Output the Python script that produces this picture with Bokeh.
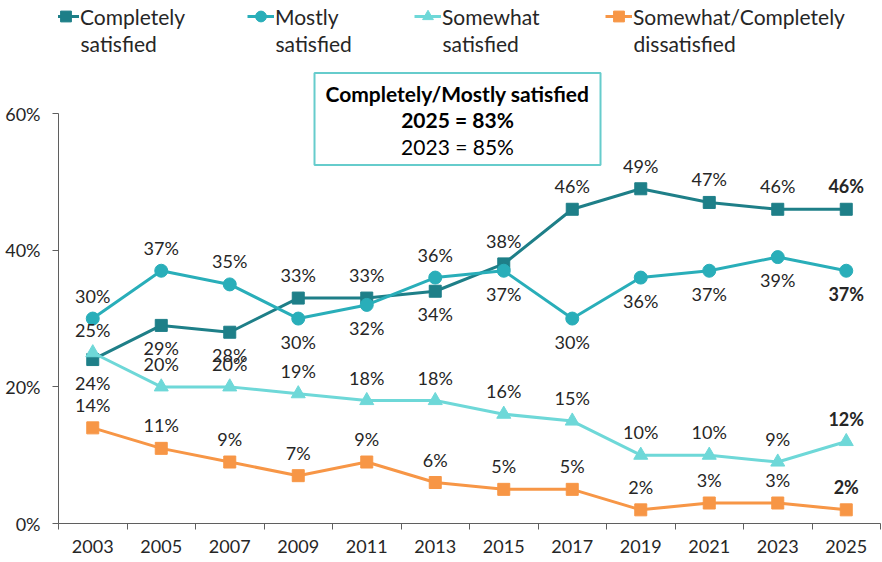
from bokeh.plotting import figure
from bokeh.models import ColumnDataSource, FixedTicker, NumeralTickFormatter, Range1d, Label, Legend, LegendItem
from bokeh.layouts import column
from bokeh.core.properties import value
from bokeh.embed import file_html
from bokeh.resources import INLINE

years = [2003, 2005, 2007, 2009, 2011, 2013, 2015, 2017, 2019, 2021, 2023, 2025]
completely = [24, 29, 28, 33, 33, 34, 38, 46, 49, 47, 46, 46]
mostly = [30, 37, 35, 30, 32, 36, 37, 30, 36, 37, 39, 37]
somewhat = [25, 20, 20, 19, 18, 18, 16, 15, 10, 10, 9, 12]
dissatisfied = [14, 11, 9, 7, 9, 6, 5, 5, 2, 3, 3, 2]

comp_pos = ["below", "below", "below", "above", "above", "below", "above", "above", "above", "above", "above", "above"]
most_pos = ["above", "above", "above", "below", "below", "above", "below", "below", "below", "below", "below", "below"]
some_pos = ["above"] * 12
dis_pos = ["above"] * 12

series_names = [["Completely", "satisfied"], ["Mostly", "satisfied"], ["Somewhat", "satisfied"], ["Somewhat/Completely", "dissatisfied"]]
box_lines = ["Completely/Mostly satisfied", "2025 = 83%", "2023 = 85%"]
y_ticks = [0, 0.2, 0.4, 0.6]

FONT = "Lato"
TXT = "#262626"
colors = ["#1E7F88", "#29AEB9", "#6ED8D8", "#F79646"]
markers = ["square", "circle", "triangle", "square"]
msizes = [12, 13, 14, 12]

W = 882
LEFT = 58
LEG_H = 66
MAIN_H = 495

# ---------- legend figure ----------
leg = figure(width=W, height=LEG_H, output_backend="svg", toolbar_location=None,
             x_range=Range1d(LEFT, W - 2), y_range=Range1d(LEG_H, 0),
             min_border_left=LEFT, min_border_right=2, min_border_top=0, min_border_bottom=0,
             outline_line_color=None)
leg.axis.visible = False
leg.grid.visible = False
leg_x0 = [52, 247, 414, 605]
leg_w = 27
hidden_x = [LEFT, LEFT + 1]
hidden_y = [-100, -100]   # proxy renderers for legend swatches, kept outside the visible range
for i in range(4):
    lr = leg.line(x=hidden_x, y=hidden_y, line_color=colors[i], line_width=3)
    sr = leg.scatter(x=hidden_x, y=hidden_y, marker=markers[i], size=msizes[i], fill_color=colors[i], line_color=colors[i])
    lg = Legend(items=[LegendItem(label=series_names[i][0], renderers=[lr, sr])],
                location=(leg_x0[i] - LEFT, 35), orientation="horizontal",
                padding=0, margin=0, spacing=0, glyph_width=leg_w, glyph_height=30, label_standoff=1,
                label_text_font=FONT, label_text_font_size="21px", label_text_color=TXT,
                border_line_color=None, background_fill_alpha=0)
    leg.add_layout(lg)
    leg.add_layout(Label(x=leg_x0[i] + leg_w + 1, y=43, text=series_names[i][1], text_align="left",
                         text_baseline="middle", text_font=FONT, text_font_size="21px", text_color=TXT))

# ---------- main figure ----------
p = figure(width=W, height=MAIN_H, output_backend="svg", toolbar_location=None,
           x_range=Range1d(2002, 2026), y_range=Range1d(0, 0.669),
           min_border_left=LEFT, min_border_right=2, min_border_top=0, min_border_bottom=38,
           outline_line_color=None)
p.grid.visible = False

p.xaxis.ticker = FixedTicker(ticks=years, minor_ticks=[y - 1 for y in years] + [years[-1] + 1])
p.xaxis.major_tick_out = 0
p.xaxis.major_tick_in = 0
p.xaxis.minor_tick_out = 6
p.xaxis.minor_tick_in = 0
p.xaxis.major_label_standoff = 10

p.yaxis.ticker = FixedTicker(ticks=y_ticks, minor_ticks=[])
p.yaxis.formatter = NumeralTickFormatter(format="0%")
p.yaxis.bounds = (0, 0.6)
p.yaxis.major_tick_out = 6
p.yaxis.major_tick_in = 0
p.yaxis.major_label_standoff = 12

for ax in [p.xaxis, p.yaxis]:
    ax.axis_line_color = "#5f5f5f"
    ax.major_tick_line_color = "#5f5f5f"
    ax.minor_tick_line_color = "#5f5f5f"
    ax.major_label_text_font = FONT
    ax.major_label_text_font_size = "18px"
    ax.major_label_text_color = TXT

all_series = [completely, mostly, somewhat, dissatisfied]
all_pos = [comp_pos, most_pos, some_pos, dis_pos]
for i, vals in enumerate(all_series):
    src = ColumnDataSource(dict(
        x=years,
        y=[v / 100 for v in vals],
        label=[f"{v}%" for v in vals],
        off=[-23 if pos == "above" else 23 for pos in all_pos[i]],
        style=["bold" if j == len(vals) - 1 else "normal" for j in range(len(vals))],
    ))
    p.line("x", "y", source=src, line_color=colors[i], line_width=3)
    p.scatter("x", "y", source=src, marker=markers[i], size=msizes[i], fill_color=colors[i], line_color=colors[i])
    p.text("x", "y", text="label", source=src, y_offset="off", text_font=value(FONT), text_font_size="18px",
           text_font_style="style", text_color=TXT, text_align="center", text_baseline="middle")

# box
BX, BY = 2013.65, 0.592
p.rect(x=[BX], y=[BY], width=[286], height=[92], width_units="screen", height_units="screen",
       fill_color="white", line_color="#66CCCC", line_width=2)
offs = [26, 0, -27]
stys = ["bold", "bold", "normal"]
for t, o, s in zip(box_lines, offs, stys):
    p.add_layout(Label(x=BX, y=BY, text=t, y_offset=o, text_align="center", text_baseline="middle",
                       text_font=FONT, text_font_size="21px", text_font_style=s, text_color="#000000"))

layout = column(leg, p)
open("out.html", "w").write(file_html(layout, INLINE))
